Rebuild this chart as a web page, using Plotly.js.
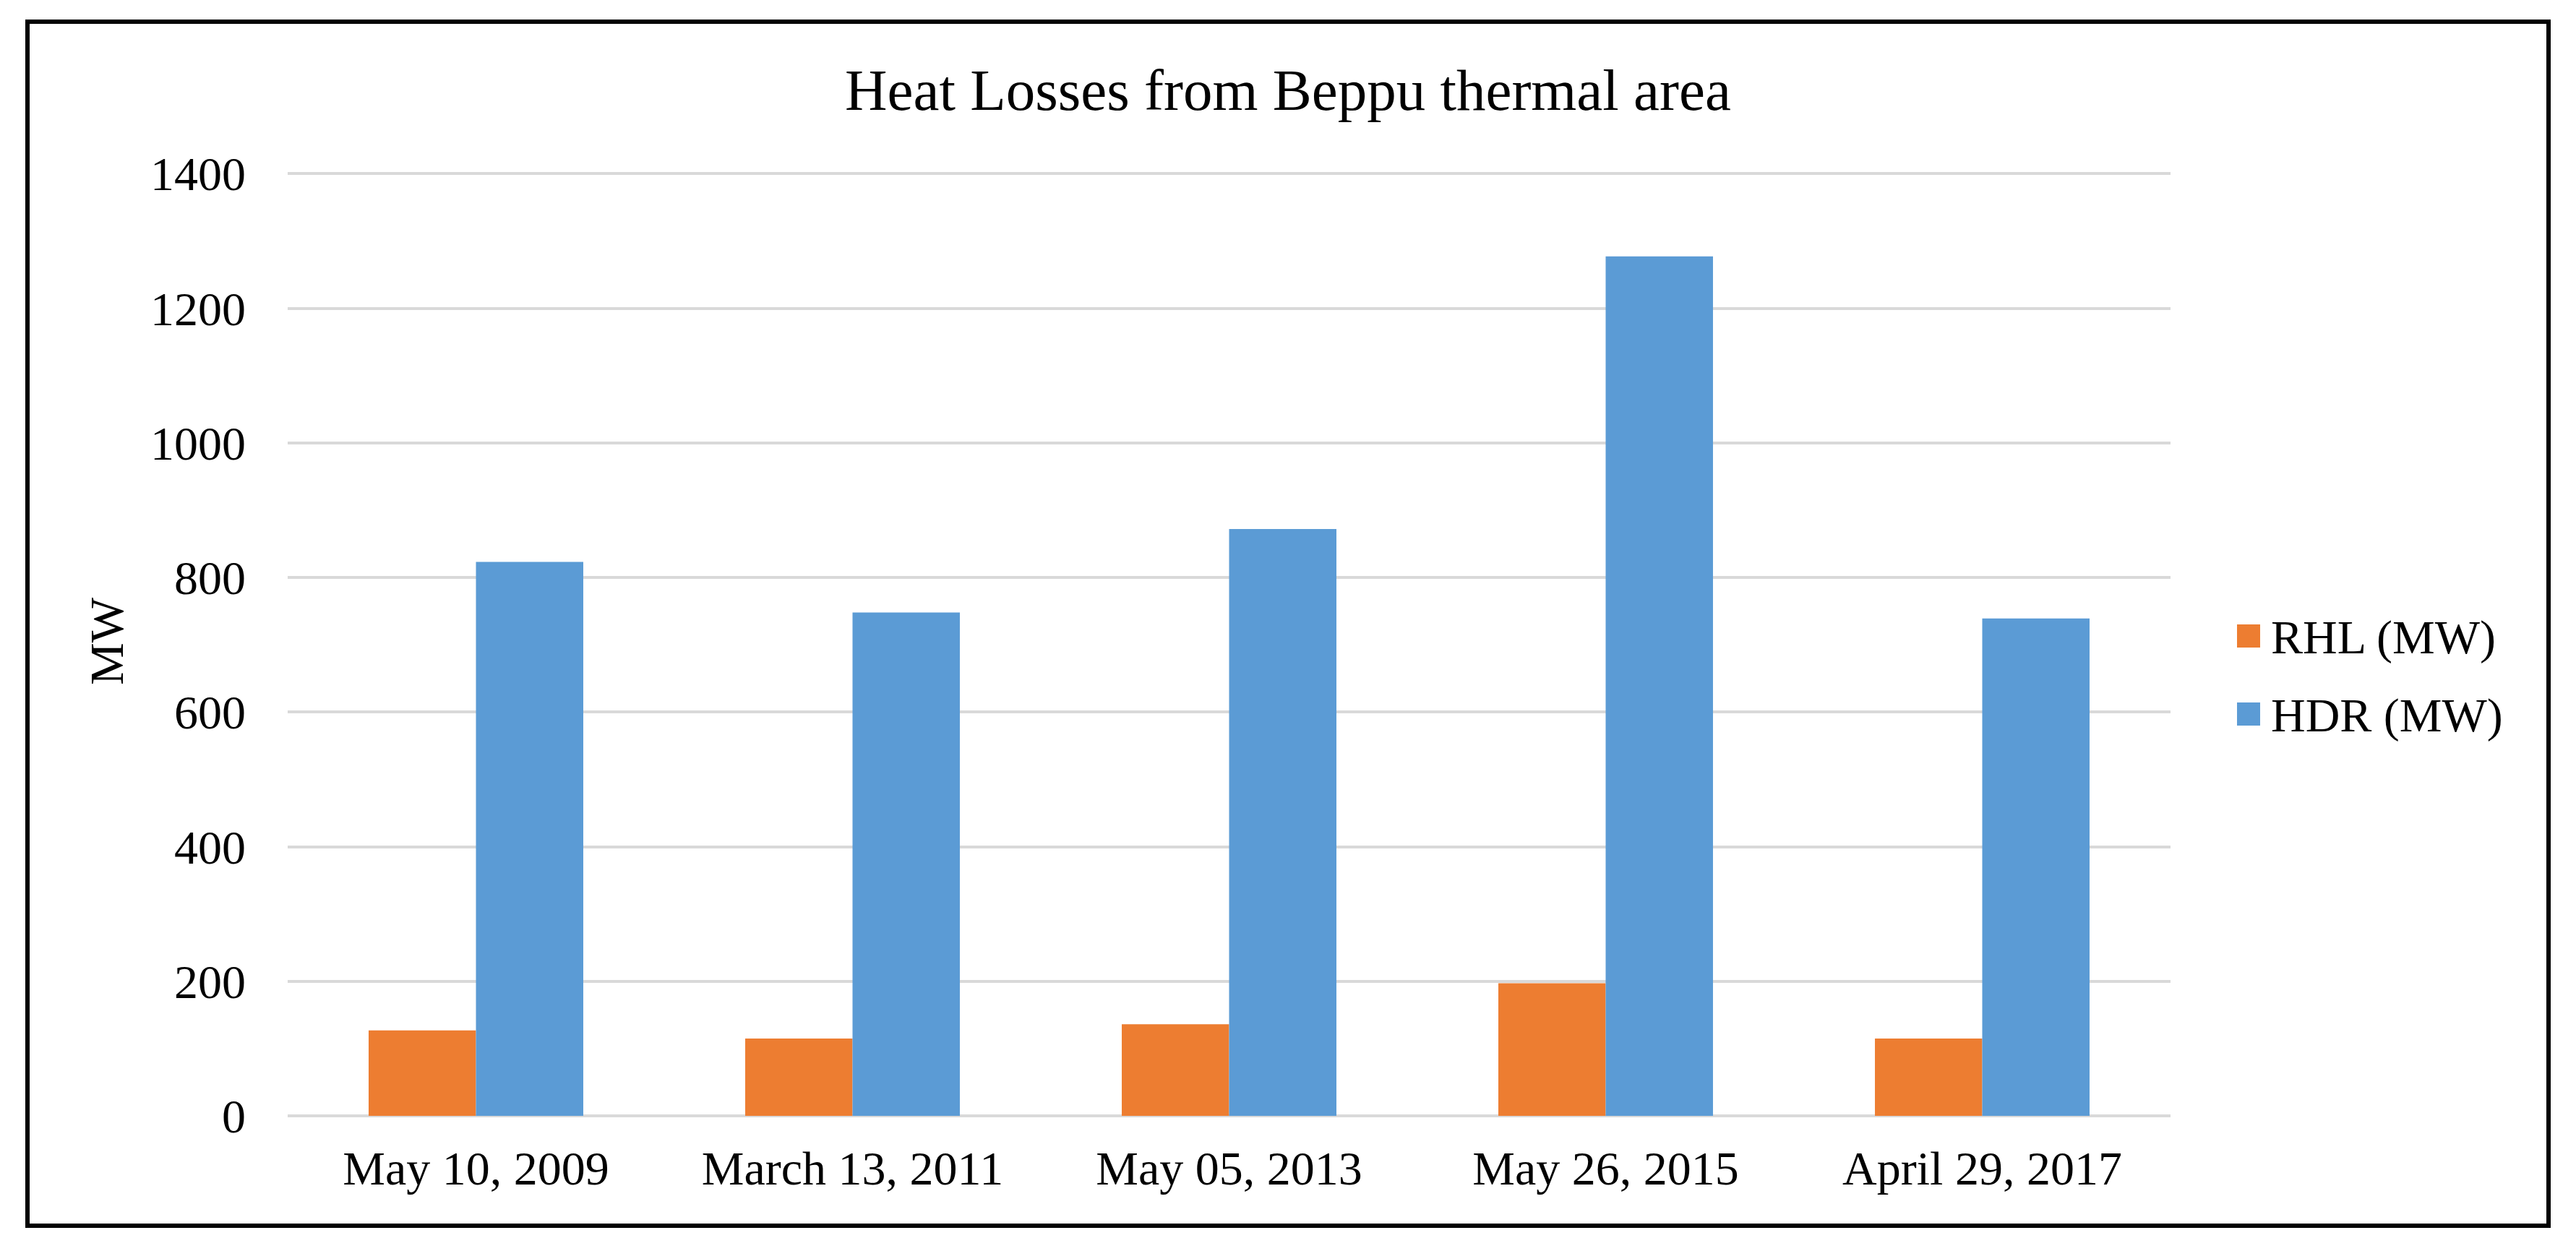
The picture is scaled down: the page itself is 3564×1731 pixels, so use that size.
<!DOCTYPE html>
<html>
<head>
<meta charset="utf-8">
<script src="https://cdn.plot.ly/plotly-3.0.1.min.js"></script>
<style>
  html, body { margin: 0; padding: 0; background: #ffffff; }
  #wrap { position: relative; width: 3564px; height: 1731px; }
  #chart { position: absolute; left: 0; top: 0; width: 3564px; height: 1731px; }
  #frame { position: absolute; left: 35px; top: 27px; width: 3482px; height: 1660px;
           border: 6px solid #000; pointer-events: none; }
</style>
</head>
<body>
<div id="wrap">
  <div id="chart"></div>
  <div id="frame"></div>
</div>
<script>
// ---- data ----
const categories = ["May 10, 2009", "March 13, 2011", "May 05, 2013", "May 26, 2015", "April 29, 2017"];
const seriesNames = ["RHL (MW)", "HDR (MW)"];
const rhlValues = [127, 115, 136, 197, 115];
const hdrValues = [823, 748, 872, 1277, 739];
const yTickValues = [0, 200, 400, 600, 800, 1000, 1200, 1400];
const chartTitle = "Heat Losses from Beppu thermal area";
const yAxisTitle = "MW";

// ---- styles ----
const colors = ["#ED7D31", "#5B9BD5"];
const FONT = "'Liberation Serif', 'Times New Roman', serif";
const FS = 66;
const W = 3564, H = 1731;
const Y_MAX = 1410;
const M = { l: 398, r: 561, t: 231, b: 187 };
const plotW = W - M.l - M.r, plotH = H - M.t - M.b;
const px2x = p => (p - M.l) / plotW;
const px2y = p => (H - M.b - p) / plotH;

const traces = [
  { type: "bar", name: seriesNames[0], x: categories, y: rhlValues,
    marker: { color: colors[0] }, hoverinfo: "x+y+name" },
  { type: "bar", name: seriesNames[1], x: categories, y: hdrValues,
    marker: { color: colors[1] }, hoverinfo: "x+y+name" }
];

// custom legend (large square swatches like the original)
const legendRows = [880, 988];
const shapes = [], annotations = [];
seriesNames.forEach((nm, i) => {
  const cy = legendRows[i];
  shapes.push({ type: "rect", xref: "paper", yref: "paper",
    x0: px2x(3095), x1: px2x(3127), y0: px2y(cy + 16), y1: px2y(cy - 16),
    fillcolor: colors[i], line: { width: 0 } });
  annotations.push({ xref: "paper", yref: "paper", x: px2x(3140), y: px2y(cy + 2),
    xanchor: "left", yanchor: "middle", showarrow: false, text: nm,
    font: { family: FONT, size: FS, color: "#000" } });
});

const layout = {
  width: W, height: H,
  margin: M,
  paper_bgcolor: "#ffffff", plot_bgcolor: "#ffffff",
  showlegend: false,
  barmode: "group",
  bargap: 0.43, bargroupgap: 0,
  title: { text: chartTitle, x: 0.5, xref: "container", xanchor: "center",
           y: 1 - 124 / H, yref: "container", yanchor: "middle",
           font: { family: FONT, size: 81, color: "#000" } },
  xaxis: { type: "category", showgrid: false, zeroline: false, showline: false,
           ticks: "", ticklabelstandoff: 28,
           tickfont: { family: FONT, size: FS, color: "#000" } },
  yaxis: { range: [0, Y_MAX], tickvals: yTickValues, ticktext: yTickValues.map(String),
           showgrid: true, gridcolor: "#d9d9d9", gridwidth: 4,
           zeroline: true, zerolinecolor: "#d9d9d9", zerolinewidth: 4,
           showline: false, ticks: "", ticklabelstandoff: 57,
           tickfont: { family: FONT, size: FS, color: "#000" },
           title: { text: yAxisTitle, standoff: 15,
                    font: { family: FONT, size: FS, color: "#000" } } },
  shapes: shapes,
  annotations: annotations
};

Plotly.newPlot("chart", traces, layout, { displayModeBar: false, staticPlot: true });
</script>
</body>
</html>
